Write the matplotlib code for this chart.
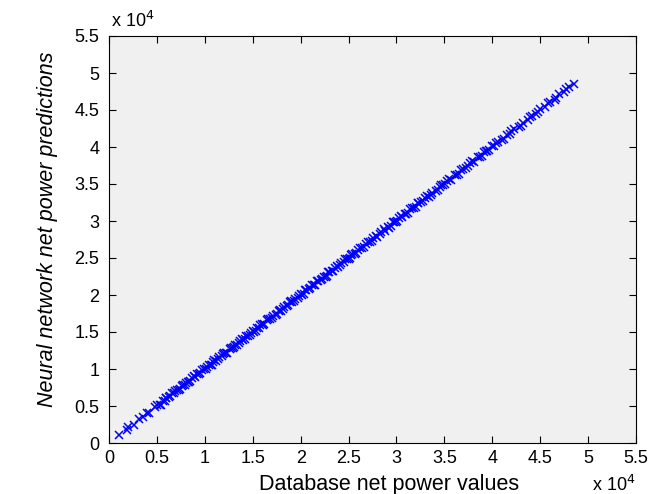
import matplotlib
matplotlib.use("Agg")
import matplotlib.pyplot as plt
from matplotlib.ticker import FuncFormatter

plt.rcParams['font.family'] = ['Liberation Sans', 'DejaVu Sans']

# database values vs network predictions
db_vals = [1000, 1900, 2000, 2600, 3100, 3600, 4000, 4200, 4800, 5000,
           5300, 5600, 5800, 6000, 6300, 6600, 6800, 7100, 7300, 7600,
           7900, 8200, 8400, 8700, 9000, 9200, 9500, 9700, 10100, 10400,
           10600, 10900, 11200, 11500, 11800, 12000, 12300, 12600, 12900, 13100,
           13400, 13700, 14000, 14300, 14500, 14800, 15100, 15400, 15700, 16000,
           16200, 16500, 16800, 17100, 17400, 17700, 18000, 18300, 18600, 18900,
           19100, 19400, 19700, 20000, 20300, 20600, 20900, 21200, 21500, 21800,
           22100, 22400, 22700, 23000, 23300, 23600, 23900, 24200, 24500, 24800,
           25100, 25400, 25700, 26000, 26400, 26800, 27200, 27600, 28000, 28400,
           28800, 29100, 29400, 29700, 30000, 30300, 30600, 30900, 31200, 31600,
           32000, 32300, 32600, 33000, 33400, 33700, 34100, 34500, 34900, 35300,
           35700, 36100, 36500, 36900, 37300, 37700, 38100, 38500, 38900, 39300,
           39700, 40000, 40200, 40600, 41000, 41500, 41900, 42300, 42800, 43200,
           43700, 44100, 44600, 45000, 45500, 46000, 46500, 47000, 47500, 48000,
           48500,
           5400, 5900, 6400, 6900, 7400, 7700, 8000, 8500, 8900, 9400,
           9900, 10200, 10700, 11000, 11400, 11900, 12200, 12700, 13000, 13600,
           13900, 14200, 14700, 15000, 15300, 15800, 16100, 16600, 17000, 17500,
           17800, 18200, 18700, 19000, 19300, 19800, 20100, 20500, 21000, 21400,
           21700, 22200, 22600, 22900, 23400, 23800, 24100, 24600, 25000, 25300,
           25800, 26200, 26600, 27000, 27400, 27900, 28300, 28700, 29200, 29600,
           30100, 30500, 31000, 31400, 31800, 32200, 32800, 33200, 33600, 34300,
           34700, 35100, 35500, 36300, 36700, 37500, 37900, 38700, 39100, 39500,
           40400, 41200, 42000, 43000, 43900, 44800, 45800, 46700, 47700]
nn_preds = [1100, 1800, 2100, 2500, 3200, 3500, 4100, 4100, 4900, 5100,
            5200, 5700, 5700, 6100, 6200, 6700, 6700, 7200, 7200, 7700,
            7800, 8300, 8300, 8800, 8900, 9300, 9400, 9800, 10000, 10500,
            10500, 11000, 11100, 11600, 11700, 12100, 12200, 12700, 12800, 13200,
            13300, 13800, 13900, 14400, 14400, 14900, 15000, 15500, 15600, 16100,
            16100, 16600, 16700, 17200, 17300, 17800, 17900, 18400, 18500, 19000,
            19000, 19500, 19600, 20100, 20200, 20700, 20800, 21300, 21400, 21900,
            22000, 22500, 22600, 23100, 23200, 23700, 23800, 24300, 24400, 24900,
            25000, 25500, 25600, 26100, 26300, 26900, 27100, 27700, 27900, 28500,
            28700, 29200, 29300, 29800, 29900, 30400, 30500, 31000, 31100, 31700,
            31900, 32400, 32500, 33100, 33300, 33800, 34000, 34600, 34800, 35400,
            35600, 36200, 36400, 37000, 37200, 37800, 38000, 38600, 38800, 39400,
            39600, 40100, 40100, 40700, 40900, 41600, 41800, 42400, 42700, 43300,
            43600, 44200, 44500, 45100, 45400, 46100, 46400, 47100, 47400, 48100,
            48500,
            5200, 6100, 6300, 7000, 7300, 7900, 8100, 8400, 9100, 9300,
            10000, 10300, 10600, 11200, 11300, 12000, 12100, 12900, 13000, 13500,
            14100, 14100, 14600, 15200, 15200, 15900, 16000, 16800, 16900, 17400,
            18000, 18100, 18600, 19200, 19200, 19900, 20000, 20700, 20900, 21300,
            21900, 22100, 22500, 23100, 23300, 23900, 24000, 24800, 24900, 25400,
            25700, 26300, 26500, 27200, 27300, 28000, 28200, 28900, 29100, 29800,
            30000, 30700, 30900, 31600, 31700, 32400, 32700, 33400, 33500, 34200,
            34900, 35000, 35700, 36200, 36900, 37400, 38100, 38600, 39300, 39400,
            40500, 41100, 42200, 42900, 44000, 44700, 45900, 46600, 47800]
tick_vals = [0, 5000, 10000, 15000, 20000, 25000, 30000, 35000, 40000, 45000, 50000, 55000]

fig = plt.figure(figsize=(6.49, 4.94), dpi=100)
ax = fig.add_axes([109/649, 51/494, 527/649, 407/494])
ax.set_facecolor('#f0f0f0')

ax.plot(db_vals, nn_preds, 'x', color='blue', markersize=5.5, markeredgewidth=1.1)

ax.set_xlim(0, 55000)
ax.set_ylim(0, 55000)
ax.set_xticks(tick_vals)
ax.set_yticks(tick_vals)
fmt = FuncFormatter(lambda v, p: ('%g' % (v / 1e4)))
ax.xaxis.set_major_formatter(fmt)
ax.yaxis.set_major_formatter(fmt)
ax.tick_params(direction='in', length=5, width=0.8, top=True, right=True,
               labelsize=13)
ax.tick_params(axis='x', pad=5)
ax.tick_params(axis='y', pad=7)
for s in ax.spines.values():
    s.set_linewidth(0.8)

ax.set_xlabel('Database net power values', fontsize=15.5)
ax.xaxis.set_label_coords(0.532, -0.077)
ax.set_ylabel('Neural network net power predictions', fontsize=15.5, style='italic')
ax.yaxis.set_label_coords(-0.097, 0.525)

ax.text(0.003, 1.012, r'x 10$^4$', transform=ax.transAxes, fontsize=13, ha='left', va='bottom')
ax.text(0.917, -0.128, r'x 10$^4$', transform=ax.transAxes, fontsize=13, ha='left', va='bottom')

fig.savefig('out.png', dpi=100)
